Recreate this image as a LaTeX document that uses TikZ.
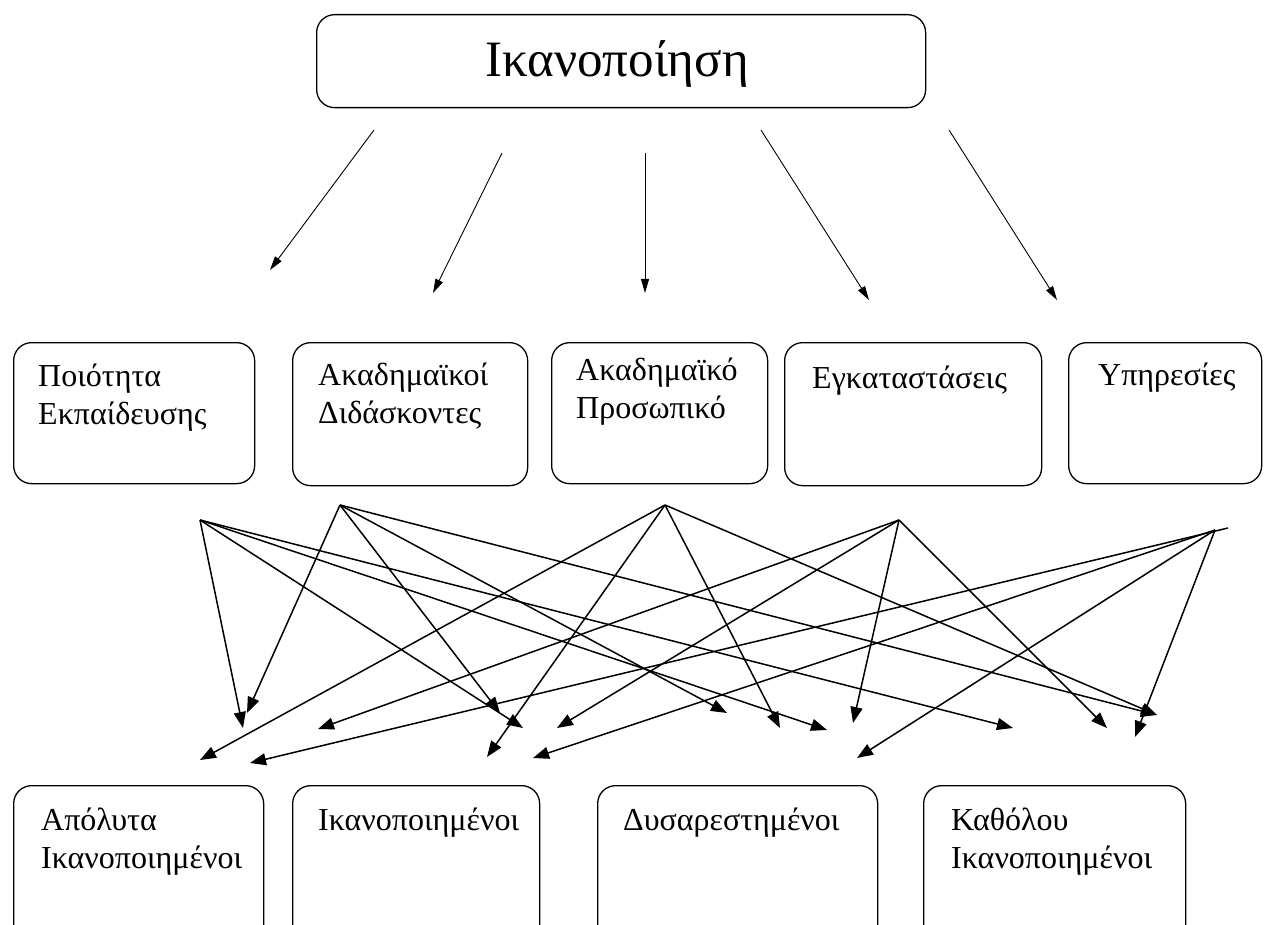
\documentclass[tikz,border=0pt]{standalone}
\usepackage{fontspec}
\setmainfont{Liberation Serif}
\usetikzlibrary{arrows.meta}
\tikzset{
	box/.style={draw, line width=1.3pt, rounded corners=18pt, inner sep=0pt, anchor=north west},
	txt/.style={anchor=base west, inner sep=0pt, align=left, font=\fontsize{32}{38}\selectfont},
	big/.style={-{Triangle[length=16pt,width=12pt]}, line width=1.5pt},
	small/.style={-{Triangle[length=14pt,width=8pt]}, line width=0.9pt},
}
\begin{document}
\begin{tikzpicture}[x=1pt,y=-1pt]
	\clip (0,0) rectangle (1277,925);
	% top
	\node[box, minimum width=609pt, minimum height=93pt] (ikan) at (316,14) {};
	\node[anchor=base, inner sep=0pt, font=\fontsize{51}{60}\selectfont] (ikant) at (617,77) {Ικανοποίηση};
	% middle row (text placed by its last baseline)
	\node[box, minimum width=241pt, minimum height=141pt] (poi) at (13,342) {};
	\node[box, minimum width=235pt, minimum height=143pt] (did) at (292,342) {};
	\node[box, minimum width=216pt, minimum height=141pt] (pro) at (551,342) {};
	\node[box, minimum width=257pt, minimum height=143pt] (egk) at (784,342) {};
	\node[box, minimum width=193pt, minimum height=141pt] (ypi) at (1068,342) {};
	\node[txt] (poit) at (38,424) {Ποιότητα\\Εκπαίδευσης};
	\node[txt] (didt) at (318,423) {Ακαδημαϊκοί\\Διδάσκοντες};
	\node[txt] (prot) at (576,418) {Ακαδημαϊκό\\Προσωπικό};
	\node[txt] (egkt) at (812,388) {Εγκαταστάσεις};
	\node[txt] (ypit) at (1098,385) {Υπηρεσίες};
	% bottom row
	\node[box, minimum width=250pt, minimum height=200pt] (apo) at (13,785) {};
	\node[box, minimum width=247pt, minimum height=200pt] (ika) at (292,785) {};
	\node[box, minimum width=280pt, minimum height=200pt] (dys) at (597,785) {};
	\node[box, minimum width=262pt, minimum height=200pt] (kat) at (923,785) {};
	\node[txt] (apot) at (41,868) {Απόλυτα\\Ικανοποιημένοι};
	\node[txt] (ikat) at (318,830) {Ικανοποιημένοι};
	\node[txt] (dyst) at (623,830) {Δυσαρεστημένοι};
	\node[txt] (katt) at (951,868) {Καθόλου\\Ικανοποιημένοι};
	% arrows out of the top box
	\foreach \n/\x/\y/\u/\v in {1/374/130/270/270, 2/502/153/433/293, 3/645/153/645/293,
		4/761/130/869/300, 5/949/130/1057/300}{
		\coordinate (t\n) at (\x,\y);
		\coordinate (m\n) at (\u,\v);
		\draw[small] (t\n) -- (m\n);
	}
	% the crossing arrows
	\coordinate (s1) at (200,520);
	\coordinate (s2) at (340,505);
	\coordinate (s3) at (665,505);
	\coordinate (s4) at (899,520);
	\coordinate (s5) at (1215,530);
	\coordinate (s5x) at (1228,528);
	\foreach \s/\n/\x/\y in {s1/a/243/728, s1/b/523/728, s1/c/827/730, s1/d/1013/728,
		s2/a/247/713, s2/b/500/713, s2/c/727/713, s2/d/1157/715,
		s3/a/200/760, s3/b/487/757, s3/c/780/728, s3/d/1157/715,
		s4/a/318/729, s4/b/557/728, s4/c/853/723, s4/d/1107/728,
		s5x/a/250/763, s5/b/533/758, s5/c/857/758, s5/d/1135/737}{
		\coordinate (\s\n) at (\x,\y);
		\draw[big] (\s) -- (\s\n);
	}
\end{tikzpicture}
\end{document}
